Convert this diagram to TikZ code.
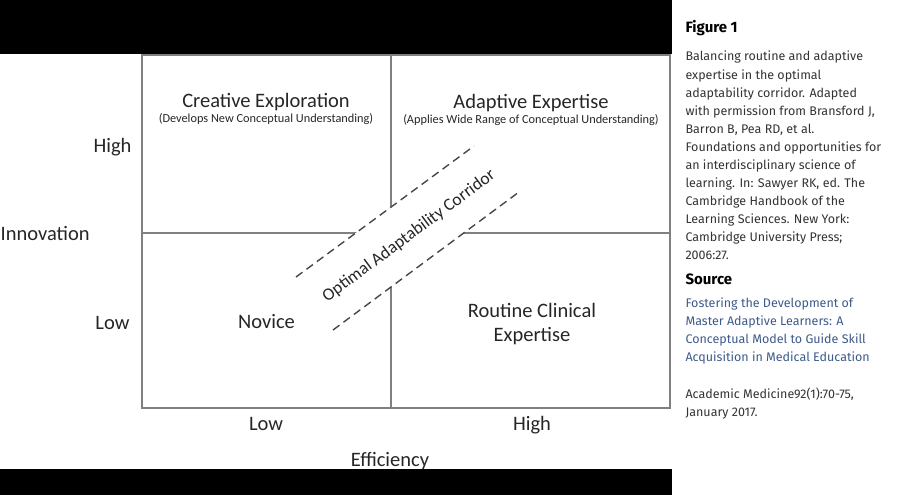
\documentclass[tikz,border=0pt]{standalone}
\usepackage{fontspec}
\setmainfont{Carlito}
\newfontfamily\firafont{Fira Sans}
\definecolor{gridgray}{HTML}{808080}
\definecolor{inkgray}{HTML}{262626}
\definecolor{captext}{HTML}{333333}
\definecolor{linkblue}{HTML}{3D5A8A}
\begin{document}
\begin{tikzpicture}[x=1pt,y=-1pt,
    axisline/.style={draw=gridgray,line width=1.4pt},
    corridorline/.style={draw=inkgray!85,line width=1.4pt,dash pattern=on 8pt off 5pt},
    quad/.style={anchor=base,text=inkgray,font=\fontsize{20.5}{24}\selectfont},
    subquad/.style={anchor=base,text=inkgray,font=\fontsize{12.3}{14}\selectfont},
    capline/.style={anchor=base west,text=captext,font=\firafont\fontsize{12.5}{14}\selectfont},
    caphead/.style={anchor=base west,text=black,font=\firafont\bfseries\fontsize{15}{18}\selectfont}]
    \useasboundingbox (0,0) rectangle (897,495);
    \fill[black] (0,0) rectangle (672,54);
    \fill[black] (0,469) rectangle (672,495);
    % quadrant grid
    \draw[axisline]
    (142,408) coordinate (sw)
    rectangle (670,55) coordinate (ne);
    \draw[axisline] (391,55) coordinate (midtop) -- (391,408) coordinate (midbot);
    \draw[axisline] (142,233) coordinate (midleft) -- (670,233) coordinate (midright);
    % corridor band
    \coordinate (ua) at (296,277);
    \coordinate (ub) at (474,146);
    \coordinate (la) at (333,330);
    \coordinate (lb) at (519,192);
    \fill[white] (ua) -- (ub) -- (lb) -- (la) -- cycle;
    \draw[corridorline] (ua) -- (ub);
    \draw[corridorline] (la) -- (lb);
    \node[text=inkgray,font=\fontsize{17.5}{20}\selectfont,rotate=36.5] (corridor) at (409,236) {Optimal Adaptability Corridor};
    % quadrant labels
    \node[quad] (creative) at (266,107) {Creative Exploration};
    \node[subquad] (creativesub) at (266,122) {(Develops New Conceptual Understanding)};
    \node[quad] (adaptive) at (531,108) {Adaptive Expertise};
    \node[subquad] (adaptivesub) at (531,123) {(Applies Wide Range of Conceptual Understanding)};
    \node[quad] (novice) at (266.5,328) {Novice};
    \node[quad] (routine) at (532,317) {Routine Clinical};
    \node[quad] (routineb) at (532,341) {Expertise};
    % axis labels
    \node[quad,anchor=base east] (yhigh) at (135,152) {High};
    \node[quad,anchor=base east] (ylow) at (133,329) {Low};
    \node[quad,anchor=base west,inner sep=0pt] (ytitle) at (0.5,240) {Innovation};
    \node[quad] (xlow) at (266,430) {Low};
    \node[quad] (xhigh) at (532,430) {High};
    \node[quad] (xtitle) at (390,466) {Efficiency};
    % caption panel
    \node[caphead] (fighead) at (682,33) {Figure 1};
    \foreach \t [count=\i] in {Balancing routine and adaptive,
        expertise in the optimal,
        adaptability corridor. Adapted,
        {with permission from Bransford J,},
        {Barron B, Pea RD, et al.},
        Foundations and opportunities for,
        an interdisciplinary science of,
        learning. In: Sawyer RK{,} ed. The,
        Cambridge Handbook of the,
        Learning Sciences. New York:,
        Cambridge University Press;,
        2006:27.}
      \node[capline] (cap\i) at (682,{61+18*(\i-1)}) {\t};
    \node[caphead] (srchead) at (682,284) {Source};
    \foreach \t [count=\i] in {Fostering the Development of,
        Master Adaptive Learners: A,
        Conceptual Model to Guide Skill,
        Acquisition in Medical Education}
      \node[capline,text=linkblue] (src\i) at (682,{307+18*(\i-1)}) {\t};
    \node[capline] (journal) at (682,398) {Academic Medicine92(1):70-75,};
    \node[capline] (jdate) at (682,416) {January 2017.};
  \end{tikzpicture}
\end{document}
